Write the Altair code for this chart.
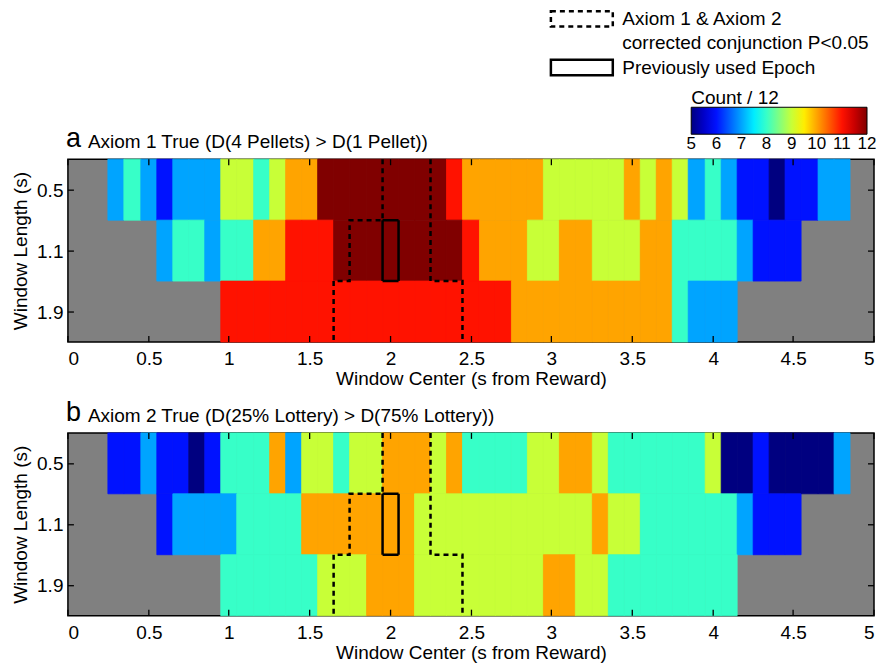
import json
import altair as alt
import pandas as pd

FONT = "Liberation Sans"

# ---- data ----------------------------------------------------------------
CELL_W = 0.1                      # window-center step (s)
ROW_LABELS = ["0.5", "1.1", "1.9"]  # window lengths (s), top to bottom
ROW_START = [0.3, 0.6, 1.0]       # first window center of each row (s)

# Panel a: Axiom 1 true counts (out of 12)
A_05 = [7, 8, 7, 6, 7, 7, 7, 9, 9, 8, 9, 10, 10, 12, 12, 12, 12, 12, 12, 12, 12, 11,
        10, 10, 10, 10, 10, 9, 9, 9, 9, 9, 10, 9, 10, 9, 7, 8, 7, 6, 6, 5, 6, 6, 7, 7]
A_11 = [7, 8, 8, 7, 8, 8, 10, 10, 11, 11, 11, 12, 12, 12, 12, 12, 12, 12, 12, 11,
        10, 10, 10, 9, 9, 10, 10, 9, 9, 9, 10, 10, 8, 8, 8, 8, 7, 6, 6, 6]
A_19 = [11, 11, 11, 11, 11, 11, 11, 11, 11, 11, 11, 11, 11, 11, 11, 11, 11, 11,
        10, 10, 10, 10, 10, 10, 10, 10, 10, 10, 8, 7, 7, 7]

# Panel b: Axiom 2 true counts (out of 12)
B_05 = [6, 6, 7, 6, 6, 5, 6, 8, 8, 8, 10, 7, 9, 9, 8, 9, 9, 10, 10, 10, 9, 10,
        8, 8, 8, 8, 9, 9, 10, 10, 9, 8, 8, 8, 8, 8, 8, 9, 5, 5, 6, 5, 5, 5, 5, 7]
B_11 = [6, 7, 7, 7, 7, 8, 8, 8, 8, 10, 10, 10, 10, 10, 10, 10,
        9, 9, 9, 9, 9, 9, 9, 9, 9, 9, 9, 10, 9, 9, 8, 8, 8, 8, 8, 8, 7, 6, 6, 6]
B_19 = [8, 8, 8, 8, 8, 8, 9, 9, 9, 10, 10, 10, 9, 9, 9, 9, 9, 9, 9, 9,
        10, 10, 9, 9, 8, 8, 8, 8, 8, 8, 8, 8]

# Outline of the conjunction-significant region (window center, row edge)
SIG_SEG = ["L", "L", "L", "L", "L", "L", "R", "R", "R", "R"]
SIG_X = [1.95, 1.95, 1.75, 1.75, 1.65, 1.65, 2.25, 2.25, 2.45, 2.45]
SIG_ROW = [0, 1, 1, 2, 2, 3, 0, 2, 2, 3]
# Previously used epoch
EPOCH_X = [1.95, 2.05, 2.05, 1.95, 1.95]
EPOCH_ROW = [1, 1, 2, 2, 1]

LEG_DASH = "Axiom 1 & Axiom 2"
LEG_DASH2 = "corrected conjunction P<0.05"
LEG_SOLID = "Previously used Epoch"

X_TICKS = [0, 0.5, 1, 1.5, 2, 2.5, 3, 3.5, 4, 4.5, 5]
Y_TICKS = [0.5, 1.5, 2.5]
COUNT_TICKS = [5, 6, 7, 8, 9, 10, 11, 12]

LETTER_A, TITLE_A = "a", "Axiom 1 True (D(4 Pellets) > D(1 Pellet))"
LETTER_B, TITLE_B = "b", "Axiom 2 True (D(25% Lottery) > D(75% Lottery))"

# ---- chart -----------------------------------------------------------------
W, H = 807, 183

xs = alt.Scale(domain=[0, 5], nice=False, zero=False, round=True)
ys = alt.Scale(domain=[0, 3], nice=False, zero=False, reverse=True, round=True)
# jet colormap over 5..12 (ends padded by a hair so that the colour-bar labels
# at 5 and 12 are centred on the bar ends)
cs = alt.Scale(domain=[4.999, 5.875, 7.625, 9.375, 11.125, 12.001],
               range=["#000080", "#0000ff", "#00ffff", "#ffff00", "#ff0000", "#800000"],
               interpolate="rgb")
dash_scale = alt.Scale(domain=[LEG_DASH, LEG_DASH2, LEG_SOLID],
                       range=[[5, 4], [0, 1000], [1, 0]])

xaxis = alt.Axis(values=X_TICKS, format="~g", title="Window Center (s from Reward)",
                 ticks=False, tickSize=0, domain=False, grid=False, labelFlush=True,
                 labelPadding=8, titlePadding=1)
yaxis = alt.Axis(values=Y_TICKS, labelExpr="%s[floor(datum.value)]" % json.dumps(ROW_LABELS),
                 title="Window Length (s)", ticks=False, tickSize=0, domain=False,
                 grid=False, labelFlush=False, labelPadding=5, titlePadding=6)

color_legend = alt.Legend(type="gradient", orient="none", legendX=624, legendY=-70,
                          direction="horizontal",
                          title="Count / 12", titleFontSize=19, titleFontWeight="normal",
                          titleAnchor="start", titlePadding=-1, titleColor="black",
                          gradientLength=176, gradientThickness=27,
                          gradientStrokeColor="black", gradientStrokeWidth=1,
                          values=COUNT_TICKS, labelFontSize=17, labelOffset=2,
                          labelColor="black", labelOverlap=False, padding=0)
dash_legend = alt.Legend(orient="none", legendX=482, legendY=-150, title=None,
                         symbolType="M-4,-1H4V1H-4Z", symbolSize=240,
                         symbolStrokeWidth=2.5, symbolStrokeColor="black",
                         symbolFillColor="transparent", symbolOffset=23,
                         labelOffset=31, labelFontSize=19, labelColor="black",
                         rowPadding=-2.6, padding=0, labelLimit=400)


def panel(rows, letter, title_text):
    cells = []
    for r, (start, vals) in enumerate(zip(ROW_START, rows)):
        for i, v in enumerate(vals):
            c = start + i * CELL_W
            cells.append({"x0": round(c - CELL_W / 2, 3), "x1": round(c + CELL_W / 2, 3),
                          "r0": r, "r1": r + 1, "count": v})
    # a thin outline in the cell's own colour hides the seams between cells
    heat = alt.Chart(pd.DataFrame(cells)).mark_rect(
        stroke={"expr": "scale('color', datum.count)"}, strokeWidth=0.8
    ).encode(
        x=alt.X("x0:Q", scale=xs, axis=xaxis),
        x2="x1:Q",
        y=alt.Y("r0:Q", scale=ys, axis=yaxis),
        y2="r1:Q",
        color=alt.Color("count:Q", scale=cs, legend=color_legend),
    )
    outline = pd.DataFrame({
        "x": SIG_X + EPOCH_X,
        "row": SIG_ROW + EPOCH_ROW,
        "kind": [LEG_DASH] * len(SIG_X) + [LEG_SOLID] * len(EPOCH_X),
        "seg": SIG_SEG + ["E"] * len(EPOCH_X),
        "ord": list(range(len(SIG_X) + len(EPOCH_X))),
    })
    lines = alt.Chart(outline).mark_line(color="black", strokeWidth=2.5).encode(
        x=alt.X("x:Q", scale=xs),
        y=alt.Y("row:Q", scale=ys),
        detail="seg:N",
        order="ord:Q",
        strokeDash=alt.StrokeDash("kind:N", scale=dash_scale, legend=dash_legend),
    )
    xt = alt.Chart(pd.DataFrame({"x": X_TICKS})).mark_rule(color="black", strokeWidth=1.3)
    yt = alt.Chart(pd.DataFrame({"row": Y_TICKS})).mark_rule(color="black", strokeWidth=1.3)
    ticks = [
        xt.encode(x=alt.X("x:Q", scale=xs), y=alt.value(0), y2=alt.value(6)),
        xt.encode(x=alt.X("x:Q", scale=xs), y=alt.value(H), y2=alt.value(H - 6)),
        yt.encode(y=alt.Y("row:Q", scale=ys), x=alt.value(0), x2=alt.value(6)),
        yt.encode(y=alt.Y("row:Q", scale=ys), x=alt.value(W), x2=alt.value(W - 6)),
    ]
    inner = alt.layer(heat, lines, *ticks).properties(
        width=W, height=H,
        title=alt.TitleParams(text=title_text, anchor="start", frame="group",
                              fontSize=19, fontWeight="normal", offset=2, dx=20,
                              color="black", font=FONT),
    )
    # panel letter sits on the same line as the panel title
    return alt.vconcat(inner, title=alt.TitleParams(
        text=letter, anchor="start", frame="group", fontSize=27, fontWeight="normal",
        offset=-21, dx=-2, color="black", font=FONT))


pa = panel([A_05, A_11, A_19], LETTER_A, TITLE_A)
pb = panel([B_05, B_11, B_19], LETTER_B, TITLE_B)

chart = alt.vconcat(pa, pb, spacing=9).properties(
    padding={"left": 2, "top": 1, "right": 0, "bottom": 0}
).configure(font=FONT).configure_view(
    fill="#808080", stroke="black", strokeWidth=1.5
).configure_axis(
    labelFontSize=19, titleFontSize=19, titleFontWeight="normal",
    labelColor="black", titleColor="black", labelFont=FONT, titleFont=FONT
).configure_legend(labelFont=FONT, titleFont=FONT)

chart.save("out.html", embed_options={"renderer": "svg", "actions": False})
